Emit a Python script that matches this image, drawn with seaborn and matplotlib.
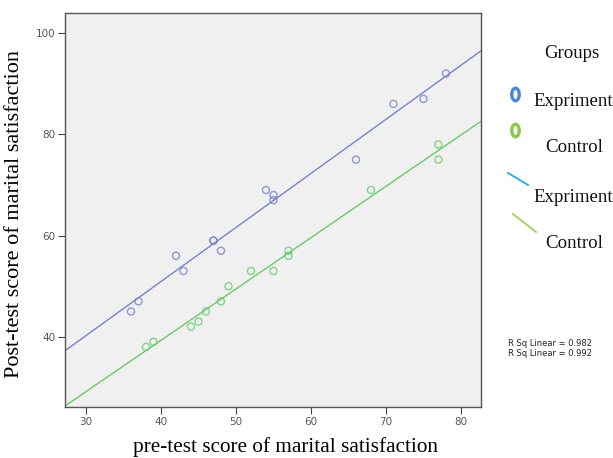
import pandas as pd
import numpy as np
import matplotlib
matplotlib.use('Agg')
import matplotlib.pyplot as plt
import seaborn as sns
from matplotlib.lines import Line2D
from matplotlib.patches import Ellipse

# Data
exp_pre = [36, 37, 42, 43, 47, 47, 48, 54, 55, 55, 66, 71, 75, 78]
exp_post = [45, 47, 56, 53, 59, 59, 57, 69, 68, 67, 75, 86, 87, 92]
ctl_pre = [38, 39, 44, 45, 46, 48, 49, 52, 55, 57, 57, 68, 77, 77]
ctl_post = [38, 39, 42, 43, 45, 47, 50, 53, 53, 56, 57, 69, 75, 78]
group_names = ['Expriment', 'Control']
r_sq = ['0.982', '0.992']
x_ticks = [30, 40, 50, 60, 70, 80]
y_ticks = [40, 60, 80, 100]

df = pd.DataFrame({
    'pre': exp_pre + ctl_pre,
    'post': exp_post + ctl_post,
    'group': [group_names[0]] * len(exp_pre) + [group_names[1]] * len(ctl_pre),
})

pt_colors = {'Expriment': '#7783c8', 'Control': '#6cc86e'}

fig = plt.figure(figsize=(6.13, 4.58), dpi=100)
ax = fig.add_axes([0.106, 0.111, 0.679, 0.861])
ax.set_facecolor('#f0f0f0')
ax.set_xlim(27.2, 82.7)
ax.set_ylim(26.1, 104)

for g in group_names:
    sub = df[df.group == g]
    sns.regplot(x='pre', y='post', data=sub, ax=ax, ci=None, truncate=False,
                color=pt_colors[g],
                scatter_kws={'facecolors': 'none', 'edgecolors': pt_colors[g],
                             's': 26, 'linewidths': 1.0},
                line_kws={'linewidth': 1.0})

ax.set_xlim(27.2, 82.7)
ax.set_ylim(26.1, 104)
ax.set_xticks(x_ticks)
ax.set_yticks(y_ticks)
ax.tick_params(axis='both', labelsize=7.5, labelcolor='#555555', length=5,
               width=0.8, color='#444444', direction='out', pad=2)
for s in ax.spines.values():
    s.set_color('#555555')
    s.set_linewidth(1.0)

ax.set_xlabel('pre-test score of marital satisfaction', family='Liberation Serif',
              fontsize=15.3)
ax.set_ylabel('Post-test score of marital satisfaction', family='Liberation Serif',
              fontsize=16)
ax.xaxis.set_label_coords(0.531, -0.075)
ax.yaxis.set_label_coords(-0.098, 0.49)

# legend drawn by hand, like the SPSS output
serif = {'family': 'Liberation Serif', 'fontsize': 13.6, 'color': '#111111'}
W, H = 613.0, 458.0
fig.text(572 / W, 1 - 53 / H, 'Groups', ha='center', va='center', **serif)
fig.add_artist(Ellipse((515.5 / W, 1 - 94.5 / H), 7.5 / W, 12.5 / H,
                       transform=fig.transFigure, fill=False,
                       edgecolor='#4a86d4', linewidth=2.4))
fig.text(533 / W, 1 - 101 / H, group_names[0], ha='left', va='center', **serif)
fig.add_artist(Ellipse((515.5 / W, 1 - 130.5 / H), 7.5 / W, 12.5 / H,
                       transform=fig.transFigure, fill=False,
                       edgecolor='#8cc84b', linewidth=2.4))
fig.text(545 / W, 1 - 148 / H, group_names[1], ha='left', va='center', **serif)
fig.add_artist(Line2D([508 / W, 528 / W], [1 - 173 / H, 1 - 185 / H],
                      color='#29a8e8', linewidth=1.3))
fig.text(533 / W, 1 - 198 / H, group_names[0], ha='left', va='center', **serif)
fig.add_artist(Line2D([513 / W, 536 / W], [1 - 214 / H, 1 - 232 / H],
                      color='#9ad25a', linewidth=1.3))
fig.text(545 / W, 1 - 244 / H, group_names[1], ha='left', va='center', **serif)

fig.text(508 / W, 1 - 344 / H, 'R Sq Linear = ' + r_sq[0], fontsize=6,
         va='center', color='#222222')
fig.text(508 / W, 1 - 353 / H, 'R Sq Linear = ' + r_sq[1], fontsize=6,
         va='center', color='#222222')

fig.savefig('out.png', dpi=100)
